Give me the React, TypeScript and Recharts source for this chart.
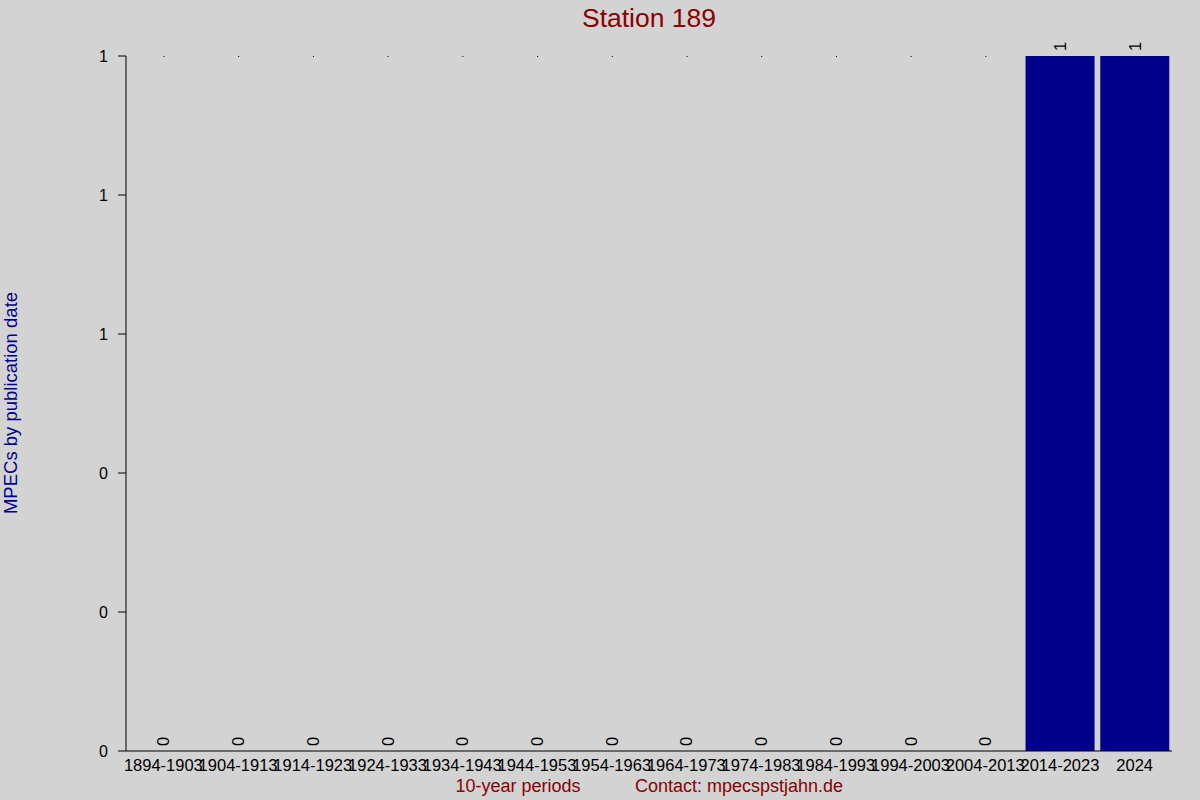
import { BarChart, Bar, XAxis, YAxis, LabelList } from 'recharts'

document.body.style.margin = '0'

const periods = [
  '1894-1903', '1904-1913', '1914-1923', '1924-1933', '1934-1943', '1944-1953', '1954-1963',
  '1964-1973', '1974-1983', '1984-1993', '1994-2003', '2004-2013', '2014-2023', '2024',
]
const mpecs = [0, 0, 0, 0, 0, 0, 0, 0, 0, 0, 0, 0, 1, 1]
const yTicks = [0, 0.2, 0.4, 0.6, 0.8, 1]

const data = periods.map((period, i) => ({ period, mpecs: mpecs[i] }))

const FONT = '"Liberation Sans", Arial, sans-serif'

// zero bars show only a tiny dot at the top of the plot
function BarShape(props: any) {
  const { x, y, width, height, value, background } = props
  if (!value) {
    const top = background ? background.y : y
    return <rect x={x + width / 2} y={top} width={1} height={1} fill="#000" />
  }
  return <rect x={x} y={y} width={width} height={height} fill="#00008b" />
}

function ValueLabel(props: any) {
  const { x, y, width, value } = props
  const cx = x + width / 2
  const ty = y - 5
  return (
    <text x={cx} y={ty} transform={`rotate(-90 ${cx} ${ty})`} textAnchor="start"
          dominantBaseline="central" fontSize={16.5} fill="#000" fontFamily={FONT}>
      {value}
    </text>
  )
}

export default function App() {
  return (
    <div style={{ position: 'relative', width: 1200, height: 800, background: '#d3d3d3', fontFamily: FONT }}>
      <BarChart width={1200} height={800} data={data} barCategoryGap="4%"
                margin={{ top: 56, right: 28, left: 0, bottom: 0 }}>
        <XAxis dataKey="period" height={49} interval={0} tickLine={false} stroke="#000"
               tick={{ fill: '#000', fontSize: 16.5, fontFamily: FONT }} />
        <YAxis width={126} domain={[0, 1]} ticks={yTicks} tickSize={8} tickMargin={10} stroke="#000"
               tickFormatter={(v) => String(Math.round(v))}
               tick={{ fill: '#000', fontSize: 16, fontFamily: FONT }} />
        <Bar dataKey="mpecs" shape={BarShape} isAnimationActive={false}>
          <LabelList dataKey="mpecs" content={ValueLabel} />
        </Bar>
      </BarChart>
      <svg width={1200} height={800} style={{ position: 'absolute', left: 0, top: 0, pointerEvents: 'none' }}>
        <text x={649} y={27} textAnchor="middle" fontSize={26.5} fill="#8b0000" fontFamily={FONT}>Station 189</text>
        <text x={17} y={403} transform="rotate(-90 17 403)" textAnchor="middle" fontSize={18.5}
              fill="#00008b" fontFamily={FONT}>MPECs by publication date</text>
        <text x={518} y={792} textAnchor="middle" fontSize={18} fill="#8b0000" fontFamily={FONT}>10-year periods</text>
        <text x={739} y={792} textAnchor="middle" fontSize={18} fill="#8b0000" fontFamily={FONT}>Contact: mpecspstjahn.de</text>
      </svg>
    </div>
  )
}
